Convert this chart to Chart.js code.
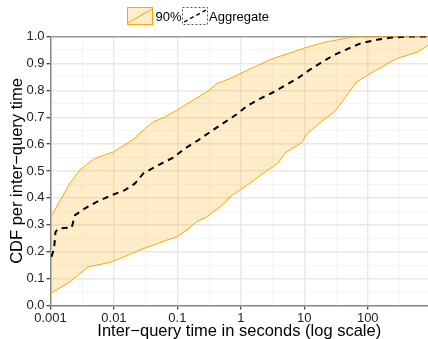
<!DOCTYPE html>
<html>
<head>
<meta charset="utf-8">
<script src="https://cdn.jsdelivr.net/npm/chart.js@4.4.1/dist/chart.umd.min.js"></script>
<style>
  html, body { margin: 0; padding: 0; background: #fff; }
  #wrap { width: 428px; height: 339px; position: relative; }
</style>
</head>
<body>
<div id="wrap"><canvas id="cdf"></canvas></div>
<script>
// inter-query time (seconds) and CDF values
const upperTimes = [0.001, 0.002, 0.0029, 0.0049, 0.0098, 0.02, 0.031, 0.042, 0.064, 0.098, 0.16, 0.29, 0.42, 0.68, 0.97, 1.5, 3.1, 5, 10.3, 21, 30.5, 67, 890]
const upper90 = [0.327, 0.453, 0.503, 0.546, 0.571, 0.617, 0.658, 0.683, 0.701, 0.726, 0.757, 0.794, 0.825, 0.844, 0.862, 0.883, 0.917, 0.933, 0.958, 0.979, 0.986, 1.0, 1.0]

const lowerTimes = [0.001, 0.00203, 0.0039, 0.0092, 0.019, 0.0309, 0.0417, 0.068, 0.0975, 0.14, 0.2, 0.29, 0.47, 0.72, 0.97, 1.31, 2.13, 3.9, 4.97, 9.1, 10.9, 18.8, 30.5, 41, 67, 109, 286, 628, 890]
const lower90 = [0.045, 0.088, 0.143, 0.162, 0.193, 0.214, 0.224, 0.243, 0.255, 0.28, 0.311, 0.329, 0.367, 0.41, 0.429, 0.45, 0.487, 0.53, 0.567, 0.605, 0.636, 0.685, 0.722, 0.763, 0.831, 0.862, 0.918, 0.943, 0.968]

const aggTimes = [0.00104, 0.00114, 0.0012, 0.00133, 0.00216, 0.00243, 0.0035, 0.00534, 0.0092, 0.0149, 0.0215, 0.029, 0.05, 0.086, 0.132, 0.214, 0.327, 0.5, 0.861, 1.24, 1.89, 3.07, 4.97, 8.05, 12.3, 18.8, 28.7, 49.4, 80.4, 147, 239, 412, 890]
const aggregate = [0.181, 0.213, 0.274, 0.286, 0.29, 0.336, 0.361, 0.385, 0.41, 0.429, 0.454, 0.491, 0.522, 0.55, 0.584, 0.615, 0.645, 0.674, 0.711, 0.741, 0.766, 0.79, 0.818, 0.846, 0.877, 0.904, 0.93, 0.955, 0.976, 0.989, 0.996, 1.0, 1.0]

const xMajor = [0.001, 0.01, 0.1, 1, 10, 100]
const xMajorLabels = ['0.001', '0.01', '0.1', '1', '10', '100']
const xMinor = [0.00316, 0.0316, 0.316, 3.16, 31.6, 316]
const yTicks = [0, 0.05, 0.1, 0.15, 0.2, 0.25, 0.3, 0.35, 0.4, 0.45, 0.5, 0.55, 0.6, 0.65, 0.7, 0.75, 0.8, 0.85, 0.9, 0.95, 1.0]

const ORANGE = '#FFA500'
const BAND = 'rgba(255,165,0,0.21)'
const FONT = "'Liberation Sans', Arial, Helvetica, sans-serif"

const toPoints = (xs, ys) => xs.map((x, i) => ({ x: x, y: ys[i] }))
const isMajorX = v => xMajor.some(m => Math.abs(m - v) / m < 1e-6)
const isMajorY = v => Math.abs(v * 10 - Math.round(v * 10)) < 1e-6

// ggplot-ish legend keys drawn above the panel
const keyLegend = {
  id: 'keyLegend',
  afterDraw(chart) {
    const ctx = chart.ctx
    ctx.save()
    // 90% band key
    ctx.fillStyle = '#FFEDCC'
    ctx.fillRect(127.5, 7.5, 25, 17)
    ctx.strokeStyle = ORANGE
    ctx.lineWidth = 1
    ctx.strokeRect(127.5, 7.5, 25, 17)
    ctx.beginPath()
    ctx.moveTo(128, 23)
    ctx.lineTo(152, 9)
    ctx.stroke()
    // aggregate key
    ctx.setLineDash([2, 2])
    ctx.strokeStyle = '#555'
    ctx.strokeRect(182.5, 7.5, 25, 17)
    ctx.setLineDash([4, 3])
    ctx.strokeStyle = '#000'
    ctx.lineWidth = 1.4
    ctx.beginPath()
    ctx.moveTo(184, 22)
    ctx.lineTo(206, 10)
    ctx.stroke()
    ctx.setLineDash([])
    ctx.fillStyle = '#000'
    ctx.font = '13px ' + FONT
    ctx.textBaseline = 'alphabetic'
    ctx.fillText('90%', 155.5, 20.5)
    ctx.fillText('Aggregate', 209, 20.5)
    ctx.restore()
  }
}

new Chart(document.getElementById('cdf'), {
  type: 'line',
  data: {
    datasets: [
      {
        label: '90%',
        data: toPoints(upperTimes, upper90),
        borderColor: ORANGE,
        borderWidth: 1,
        backgroundColor: BAND,
        fill: { target: 1 },
        pointRadius: 0,
        tension: 0,
        order: 2
      },
      {
        label: '90% lower',
        data: toPoints(lowerTimes, lower90),
        borderColor: ORANGE,
        borderWidth: 1,
        backgroundColor: BAND,
        fill: false,
        pointRadius: 0,
        tension: 0,
        order: 1
      },
      {
        label: 'Aggregate',
        data: toPoints(aggTimes, aggregate),
        borderColor: '#000',
        borderWidth: 2,
        borderDash: [6, 5],
        fill: false,
        pointRadius: 0,
        tension: 0,
        order: 0
      }
    ]
  },
  options: {
    responsive: true,
    maintainAspectRatio: false,
    animation: false,
    layout: { padding: { top: 36.5, right: 0, bottom: 0, left: 0 } },
    plugins: {
      legend: { display: false },
      tooltip: { enabled: false },
      filler: { drawTime: 'beforeDatasetsDraw' }
    },
    scales: {
      x: {
        type: 'logarithmic',
        min: 0.001,
        max: 890,
        afterBuildTicks: (scale) => {
          scale.ticks = xMajor.concat(xMinor).sort((a, b) => a - b).map(v => ({ value: v }))
        },
        afterFit: (scale) => { scale.height = 33.5 },
        ticks: {
          autoSkip: false,
          maxRotation: 0,
          padding: 1,
          color: '#222',
          font: { family: FONT, size: 13 },
          callback: (value) => {
            const i = xMajor.findIndex(m => Math.abs(m - value) / m < 1e-6)
            return i >= 0 ? xMajorLabels[i] : ''
          }
        },
        grid: {
          color: (c) => (c.tick && isMajorX(c.tick.value)) ? '#E8E8E8' : '#F3F3F3',
          lineWidth: (c) => (c.tick && isMajorX(c.tick.value)) ? 1.4 : 0.8,
          tickColor: (c) => (c.tick && isMajorX(c.tick.value)) ? '#333' : 'rgba(0,0,0,0)',
          tickLength: 4,
          tickWidth: 1.2
        },
        border: { color: '#888', width: 1.5 },
        title: {
          display: true,
          text: 'Inter\u2212query time in seconds (log scale)',
          color: '#000',
          font: { family: FONT, size: 16.5 },
          padding: { top: 0, bottom: -2 }
        }
      },
      y: {
        type: 'linear',
        min: 0,
        max: 1,
        afterBuildTicks: (scale) => {
          scale.ticks = yTicks.map(v => ({ value: v }))
        },
        afterFit: (scale) => { scale.width = 50.5 },
        ticks: {
          autoSkip: false,
          padding: 2,
          color: '#222',
          font: { family: FONT, size: 13 },
          callback: (value) => isMajorY(value) ? value.toFixed(1) : ''
        },
        grid: {
          color: (c) => {
            if (!c.tick) return '#E8E8E8'
            if (c.tick.value === 1) return '#999'
            return isMajorY(c.tick.value) ? '#E8E8E8' : '#F3F3F3'
          },
          lineWidth: (c) => (c.tick && isMajorY(c.tick.value)) ? 1.4 : 0.8,
          tickColor: (c) => (c.tick && isMajorY(c.tick.value)) ? '#333' : 'rgba(0,0,0,0)',
          tickLength: 4,
          tickWidth: 1.2
        },
        border: { color: '#888', width: 1.5 },
        title: {
          display: true,
          text: 'CDF per inter\u2212query time',
          color: '#000',
          font: { family: FONT, size: 16.5 },
          padding: { top: 8, bottom: 0 }
        }
      }
    }
  },
  plugins: [keyLegend]
})
</script>
</body>
</html>
